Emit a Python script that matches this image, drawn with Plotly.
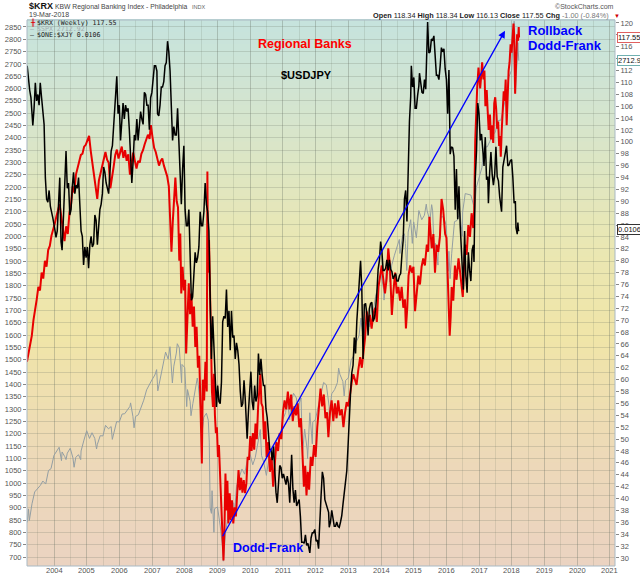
import pandas as pd
import plotly.graph_objects as go

# ---------------- DATA ----------------
# $ONE:$XJY overlay, expressed as the USD/JPY level it tracks
jpy_dates = [
 "2003-03-07","2003-03-21","2003-04-04","2003-04-18","2003-05-02","2003-05-09","2003-05-23","2003-06-06","2003-06-20","2003-07-04","2003-07-18","2003-07-31","2003-08-15","2003-08-29","2003-09-12","2003-09-26","2003-10-10","2003-10-24","2003-11-07","2003-11-21","2003-12-05","2003-12-19",
 "2004-01-09","2004-01-23","2004-02-06","2004-02-20","2004-03-05","2004-03-19","2004-03-31","2004-04-16","2004-04-30","2004-05-14","2004-05-28","2004-06-11","2004-06-25","2004-07-09","2004-07-23","2004-08-06","2004-08-20","2004-09-03","2004-09-17","2004-10-01","2004-10-15","2004-10-29","2004-11-12","2004-11-26","2004-12-10","2004-12-24",
 "2005-01-07","2005-01-21","2005-02-04","2005-02-18","2005-03-04","2005-03-18","2005-04-01","2005-04-15","2005-04-29","2005-05-13","2005-05-27","2005-06-10","2005-06-24","2005-07-08","2005-07-22","2005-08-05","2005-08-19","2005-09-02","2005-09-16","2005-09-30","2005-10-14","2005-10-28","2005-11-11","2005-11-25","2005-12-02","2005-12-16","2005-12-30",
 "2006-01-13","2006-01-27","2006-02-10","2006-02-24","2006-03-10","2006-03-24","2006-04-07","2006-04-21","2006-05-05","2006-05-19","2006-06-02","2006-06-16","2006-06-30","2006-07-14","2006-07-28","2006-08-11","2006-08-25","2006-09-08","2006-09-22","2006-10-06","2006-10-20","2006-11-03","2006-11-17","2006-12-01","2006-12-15","2006-12-29",
 "2007-01-12","2007-01-26","2007-02-09","2007-02-23","2007-03-02","2007-03-16","2007-03-30","2007-04-13","2007-04-27","2007-05-11","2007-05-25","2007-06-08","2007-06-22","2007-07-06","2007-07-20","2007-08-03","2007-08-17","2007-08-31","2007-09-14","2007-09-28","2007-10-12","2007-10-26","2007-11-09","2007-11-23","2007-12-07","2007-12-21",
 "2008-01-04","2008-01-18","2008-02-01","2008-02-15","2008-02-29","2008-03-14","2008-03-28","2008-04-11","2008-04-25","2008-05-09","2008-05-23","2008-06-06","2008-06-20","2008-07-04","2008-07-18","2008-08-01","2008-08-15","2008-08-29","2008-09-12","2008-09-26","2008-10-10","2008-10-24","2008-11-07","2008-11-21","2008-12-05","2008-12-19",
 "2009-01-02","2009-01-16","2009-01-30","2009-02-13","2009-02-27","2009-03-13","2009-03-27","2009-04-10","2009-04-24","2009-05-08","2009-05-22","2009-06-05","2009-06-19","2009-07-03","2009-07-17","2009-07-31","2009-08-14","2009-08-28","2009-09-11","2009-09-25","2009-10-09","2009-10-23","2009-11-06","2009-11-27","2009-12-11","2009-12-25",
 "2010-01-08","2010-01-22","2010-02-05","2010-02-19","2010-03-05","2010-03-19","2010-04-02","2010-04-16","2010-04-30","2010-05-14","2010-05-28","2010-06-11","2010-06-25","2010-07-09","2010-07-23","2010-08-06","2010-08-20","2010-09-03","2010-09-17","2010-10-01","2010-10-15","2010-10-29","2010-11-12","2010-11-26","2010-12-10","2010-12-24",
 "2011-01-07","2011-01-21","2011-02-04","2011-02-18","2011-03-04","2011-03-18","2011-04-01","2011-04-08","2011-04-22","2011-05-06","2011-05-20","2011-06-03","2011-06-17","2011-07-01","2011-07-15","2011-07-29","2011-08-12","2011-08-26","2011-09-09","2011-09-23","2011-10-07","2011-10-21","2011-10-28","2011-11-11","2011-11-25","2011-12-09","2011-12-23",
 "2012-01-06","2012-01-20","2012-02-03","2012-02-17","2012-03-02","2012-03-16","2012-03-30","2012-04-13","2012-04-27","2012-05-11","2012-05-25","2012-06-01","2012-06-15","2012-06-29","2012-07-13","2012-07-27","2012-08-10","2012-08-24","2012-09-07","2012-09-21","2012-10-05","2012-10-19","2012-11-02","2012-11-16","2012-11-30","2012-12-14","2012-12-28",
 "2013-01-11","2013-01-25","2013-02-08","2013-02-22","2013-03-08","2013-03-22","2013-04-05","2013-04-19","2013-05-10","2013-05-17","2013-05-31","2013-06-14","2013-06-28","2013-07-12","2013-07-26","2013-08-09","2013-08-23","2013-09-06","2013-09-20","2013-10-04","2013-10-18","2013-11-01","2013-11-15","2013-11-29","2013-12-13","2013-12-27",
 "2014-01-10","2014-01-24","2014-02-07","2014-02-21","2014-03-07","2014-03-21","2014-04-04","2014-04-18","2014-05-02","2014-05-16","2014-05-30","2014-06-13","2014-06-27","2014-07-11","2014-07-25","2014-08-08","2014-08-22","2014-09-05","2014-09-19","2014-10-03","2014-10-17","2014-10-31","2014-11-14","2014-11-28","2014-12-05","2014-12-19",
 "2015-01-02","2015-01-16","2015-01-30","2015-02-13","2015-02-27","2015-03-06","2015-03-20","2015-04-03","2015-04-17","2015-05-01","2015-05-15","2015-05-29","2015-06-05","2015-06-19","2015-07-03","2015-07-17","2015-07-31","2015-08-14","2015-08-28","2015-09-11","2015-09-25","2015-10-09","2015-10-23","2015-11-06","2015-11-20","2015-12-04","2015-12-18",
 "2016-01-01","2016-01-15","2016-01-29","2016-02-12","2016-02-26","2016-03-11","2016-03-25","2016-04-08","2016-04-22","2016-05-06","2016-05-20","2016-06-03","2016-06-17","2016-06-24","2016-07-08","2016-07-22","2016-08-05","2016-08-19","2016-09-02","2016-09-16","2016-09-30","2016-10-14","2016-10-28","2016-11-04","2016-11-18","2016-12-02","2016-12-16","2016-12-30",
 "2017-01-13","2017-01-27","2017-02-10","2017-02-24","2017-03-10","2017-03-24","2017-04-07","2017-04-14","2017-04-28","2017-05-12","2017-05-26","2017-06-09","2017-06-23","2017-07-07","2017-07-21","2017-08-04","2017-08-18","2017-09-08","2017-09-22","2017-10-06","2017-10-20","2017-11-03","2017-11-17","2017-12-01","2017-12-15","2017-12-29",
 "2018-01-12","2018-01-26","2018-02-09","2018-02-16","2018-03-02","2018-03-09","2018-03-16","2018-03-19",
]
jpy_vals = [
 121.5,120.0,119.2,118.5,117.0,115.9,117.5,119.9,118.2,118.8,117.8,119.9,118.5,117.2,116.0,111.0,109.0,108.7,109.8,108.3,107.8,107.2,
 106.2,105.4,106.0,109.0,111.0,105.0,104.2,107.5,110.5,113.5,110.0,110.5,107.5,108.0,110.2,111.5,109.5,110.3,110.0,111.0,108.5,106.0,105.5,102.8,104.5,103.5,
 104.5,102.5,104.7,105.5,104.5,104.8,107.5,107.0,104.7,106.5,108.0,108.5,109.5,112.0,111.5,110.5,110.0,109.5,111.5,113.5,114.0,115.8,118.0,119.5,120.5,117.0,117.8,
 114.5,116.5,118.0,116.5,117.8,117.2,117.5,115.5,112.0,110.5,112.5,115.0,114.5,116.5,114.5,115.8,117.2,116.5,116.0,119.0,118.8,117.8,117.8,115.5,118.5,119.0,
 120.5,121.5,121.5,121.0,117.0,116.8,117.8,119.5,119.5,120.0,121.5,121.8,123.8,122.8,121.0,118.5,114.5,115.8,115.0,115.0,117.5,114.5,111.0,108.5,111.8,114.0,
 108.0,106.5,106.5,108.0,103.8,99.5,99.8,101.5,104.0,103.0,103.5,104.5,107.8,106.5,106.5,107.8,110.5,108.5,107.8,106.0,100.5,94.0,98.0,95.5,93.0,89.5,
 91.5,90.0,89.8,91.8,97.5,98.0,97.8,100.5,97.0,98.5,94.8,98.5,96.0,96.2,94.0,95.5,94.8,93.5,91.0,89.5,89.8,92.0,90.2,86.5,89.0,91.5,
 92.8,90.0,89.2,91.5,90.0,90.5,94.5,92.5,94.0,92.5,91.5,91.5,89.3,88.5,87.0,85.5,85.5,84.5,85.8,83.3,81.5,80.5,82.5,84.0,83.8,82.8,
 83.2,82.5,82.2,83.0,82.3,80.5,84.0,85.0,81.8,80.5,81.7,80.2,80.5,80.8,79.2,76.8,76.8,76.7,77.5,76.5,76.7,76.2,75.8,77.2,77.7,77.7,78.0,
 76.9,77.0,76.2,79.5,81.2,83.4,82.8,80.8,80.3,79.8,79.6,78.2,78.7,79.8,79.2,78.3,78.3,78.7,78.3,78.2,78.7,79.3,80.4,81.3,82.4,83.5,85.8,
 89.0,90.8,92.7,93.4,96.0,94.5,97.5,99.5,101.6,103.2,100.5,94.0,99.1,99.2,98.2,96.2,98.7,99.2,99.3,97.5,97.8,98.7,100.2,102.4,103.2,105.0,
 104.1,102.3,102.3,102.5,103.3,102.3,103.3,102.4,102.2,101.5,101.8,102.0,101.3,101.3,101.8,102.0,103.8,105.1,109.0,109.8,106.9,112.3,116.3,118.6,121.5,119.5,
 120.4,117.5,117.5,118.7,119.6,120.8,120.0,119.0,118.9,120.2,119.3,124.1,125.6,122.7,122.8,124.0,123.9,124.3,121.7,120.6,120.6,120.2,121.5,123.2,122.8,123.1,121.2,
 120.2,117.0,121.1,113.2,113.9,113.8,113.0,108.0,111.8,107.1,110.2,106.5,104.2,102.2,100.5,106.0,101.8,100.2,104.0,102.3,101.3,104.2,104.7,103.1,110.9,113.5,118.0,117.0,
 114.5,115.1,113.2,112.1,114.8,110.8,111.1,108.6,111.5,113.4,111.3,110.3,111.3,113.9,111.1,110.7,109.2,107.8,112.0,112.6,113.5,114.0,112.1,112.2,112.6,112.7,
 111.0,108.6,108.8,106.3,105.7,106.8,106.0,106.1,
]

# $SPX (left scale)
spx_dates = [
 "2003-03-07","2003-03-21","2003-03-31","2003-04-30","2003-05-30","2003-06-30","2003-07-31","2003-08-29","2003-09-30","2003-10-31","2003-11-28","2003-12-31",
 "2004-01-30","2004-02-27","2004-03-24","2004-03-31","2004-04-30","2004-05-14","2004-05-28","2004-06-30","2004-07-30","2004-08-12","2004-08-31","2004-09-30","2004-10-25","2004-10-29","2004-11-30","2004-12-31",
 "2005-01-31","2005-02-28","2005-03-31","2005-04-20","2005-04-29","2005-05-31","2005-06-30","2005-07-29","2005-08-31","2005-09-30","2005-10-13","2005-10-31","2005-11-30","2005-12-30",
 "2006-01-31","2006-02-28","2006-03-31","2006-04-28","2006-05-05","2006-05-31","2006-06-13","2006-06-30","2006-07-31","2006-08-31","2006-09-29","2006-10-31","2006-11-30","2006-12-29",
 "2007-01-31","2007-02-20","2007-03-05","2007-03-30","2007-04-30","2007-05-31","2007-06-29","2007-07-19","2007-08-15","2007-08-31","2007-09-28","2007-10-09","2007-10-31","2007-11-26","2007-11-30","2007-12-31",
 "2008-01-22","2008-01-31","2008-02-29","2008-03-10","2008-03-31","2008-04-30","2008-05-19","2008-05-30","2008-06-30","2008-07-15","2008-07-31","2008-08-29","2008-09-19","2008-09-30","2008-10-10","2008-10-24","2008-10-31","2008-11-21","2008-11-28","2008-12-31",
 "2009-01-30","2009-02-27","2009-03-06","2009-03-31","2009-04-30","2009-05-29","2009-06-30","2009-07-10","2009-07-31","2009-08-31","2009-09-30","2009-10-30","2009-11-30","2009-12-31",
 "2010-01-29","2010-02-26","2010-03-31","2010-04-23","2010-05-07","2010-05-28","2010-06-30","2010-07-30","2010-08-27","2010-09-30","2010-10-29","2010-11-30","2010-12-31",
 "2011-01-31","2011-02-18","2011-03-16","2011-03-31","2011-04-29","2011-05-31","2011-06-24","2011-06-30","2011-07-22","2011-08-08","2011-08-31","2011-09-30","2011-10-03","2011-10-28","2011-11-25","2011-11-30","2011-12-30",
 "2012-01-31","2012-02-29","2012-03-30","2012-04-30","2012-05-31","2012-06-01","2012-06-29","2012-07-31","2012-08-31","2012-09-14","2012-09-28","2012-10-31","2012-11-15","2012-11-30","2012-12-31",
 "2013-01-31","2013-02-28","2013-03-28","2013-04-30","2013-05-21","2013-05-31","2013-06-24","2013-06-28","2013-07-31","2013-08-30","2013-09-18","2013-09-30","2013-10-31","2013-11-29","2013-12-31",
 "2014-01-31","2014-02-03","2014-02-28","2014-03-31","2014-04-11","2014-04-30","2014-05-30","2014-06-30","2014-07-24","2014-07-31","2014-08-29","2014-09-19","2014-09-30","2014-10-15","2014-10-31","2014-11-28","2014-12-16","2014-12-31",
 "2015-01-30","2015-02-27","2015-03-31","2015-04-30","2015-05-21","2015-05-29","2015-06-30","2015-07-20","2015-07-31","2015-08-25","2015-08-31","2015-09-29","2015-09-30","2015-10-30","2015-11-30","2015-12-31",
 "2016-01-20","2016-01-29","2016-02-11","2016-02-29","2016-03-31","2016-04-29","2016-05-31","2016-06-27","2016-06-30","2016-07-29","2016-08-31","2016-09-30","2016-10-31","2016-11-04","2016-11-30","2016-12-30",
 "2017-01-31","2017-02-28","2017-03-31","2017-04-28","2017-05-31","2017-06-30","2017-07-31","2017-08-31","2017-09-29","2017-10-31","2017-11-30","2017-12-29",
 "2018-01-26","2018-02-08","2018-02-28","2018-03-09","2018-03-19",
]
spx_vals = [
 840,895,848,916,964,975,990,1008,996,1051,1058,1112,
 1131,1145,1091,1126,1107,1095,1121,1141,1102,1064,1104,1115,1095,1130,1174,1212,
 1181,1204,1181,1138,1157,1192,1191,1234,1220,1229,1177,1207,1249,1248,
 1280,1281,1295,1311,1325,1270,1224,1270,1277,1304,1336,1378,1401,1418,
 1438,1460,1374,1421,1482,1531,1503,1553,1406,1474,1527,1565,1549,1407,1481,1468,
 1310,1379,1331,1273,1323,1386,1426,1400,1280,1215,1267,1283,1255,1166,899,877,969,800,896,903,
 826,735,683,798,873,919,919,879,987,1021,1057,1036,1096,1115,
 1074,1104,1169,1217,1111,1089,1031,1102,1065,1141,1183,1181,1258,
 1286,1343,1257,1326,1364,1345,1268,1321,1345,1119,1219,1131,1099,1285,1159,1247,1258,
 1312,1366,1408,1398,1310,1278,1362,1379,1407,1466,1441,1412,1353,1416,1426,
 1498,1515,1569,1598,1669,1631,1573,1606,1686,1633,1725,1682,1757,1806,1848,
 1783,1742,1859,1872,1815,1884,1924,1960,1988,1931,2003,2011,1972,1862,2018,2068,1972,2059,
 1995,2105,2068,2086,2131,2107,2063,2129,2104,1868,1972,1884,1920,2079,2080,2044,
 1859,1940,1829,1932,2060,2065,2097,2001,2099,2174,2171,2168,2126,2085,2199,2239,
 2279,2364,2363,2384,2412,2423,2470,2472,2519,2575,2648,2674,
 2873,2581,2714,2786,2713,
]

# $KRX weekly price (right scale); time in decimal years, alternating bar highs/lows
krx_t = [
 2003.17,2003.22,2003.27,2003.32,2003.37,2003.42,2003.47,2003.52,2003.57,2003.62,2003.67,2003.72,2003.77,2003.82,2003.87,2003.92,2003.97,
 2004.02,2004.07,2004.12,2004.17,2004.22,2004.27,2004.32,2004.37,2004.42,2004.47,2004.52,2004.57,2004.62,2004.67,2004.72,2004.77,2004.82,2004.87,2004.92,2004.97,
 2005.02,2005.07,2005.12,2005.17,2005.22,2005.27,2005.32,2005.37,2005.42,2005.47,2005.52,2005.57,2005.62,2005.67,2005.72,2005.77,2005.82,2005.87,2005.92,2005.97,
 2006.02,2006.07,2006.12,2006.17,2006.22,2006.27,2006.32,2006.37,2006.42,2006.47,2006.52,2006.57,2006.62,2006.67,2006.72,2006.77,2006.82,2006.87,2006.92,2006.96,
 2007.01,2007.06,2007.11,2007.16,2007.21,2007.26,2007.31,2007.36,2007.41,2007.46,2007.51,2007.55,2007.59,2007.63,2007.67,2007.71,2007.75,2007.79,2007.83,2007.86,2007.89,2007.93,2007.97,
 2008.01,2008.04,2008.08,2008.12,2008.16,2008.20,2008.24,2008.28,2008.32,2008.36,2008.40,2008.44,2008.48,2008.52,2008.55,2008.59,2008.63,2008.67,2008.69,2008.71,2008.74,2008.77,2008.80,2008.83,2008.86,2008.89,2008.92,2008.95,2008.98,
 2009.01,2009.04,2009.07,2009.10,2009.13,2009.15,2009.18,2009.21,2009.24,2009.27,2009.30,2009.33,2009.37,2009.40,2009.44,2009.48,2009.52,2009.56,2009.60,2009.64,2009.68,2009.72,2009.76,2009.80,2009.84,2009.88,2009.92,2009.96,
 2010.00,2010.04,2010.08,2010.12,2010.16,2010.20,2010.24,2010.28,2010.31,2010.34,2010.38,2010.42,2010.46,2010.50,2010.55,2010.60,2010.65,2010.70,2010.75,2010.80,2010.85,2010.90,2010.95,
 2011.00,2011.05,2011.10,2011.15,2011.20,2011.25,2011.30,2011.35,2011.40,2011.45,2011.50,2011.55,2011.60,2011.64,2011.68,2011.72,2011.76,2011.80,2011.85,2011.90,2011.95,
 2012.00,2012.05,2012.10,2012.15,2012.20,2012.25,2012.30,2012.35,2012.39,2012.44,2012.49,2012.54,2012.59,2012.64,2012.69,2012.74,2012.80,2012.85,2012.90,2012.95,
 2013.00,2013.05,2013.10,2013.15,2013.20,2013.25,2013.30,2013.36,2013.41,2013.46,2013.51,2013.56,2013.61,2013.66,2013.71,2013.76,2013.82,2013.87,2013.92,2013.97,
 2014.02,2014.07,2014.12,2014.17,2014.22,2014.27,2014.33,2014.38,2014.43,2014.48,2014.53,2014.58,2014.63,2014.68,2014.73,2014.76,2014.80,2014.84,2014.89,2014.94,2014.99,
 2015.04,2015.09,2015.14,2015.19,2015.24,2015.29,2015.34,2015.40,2015.44,2015.48,2015.52,2015.55,2015.60,2015.65,2015.70,2015.75,2015.80,2015.85,2015.90,2015.96,
 2016.00,2016.04,2016.07,2016.10,2016.13,2016.16,2016.21,2016.26,2016.31,2016.37,2016.42,2016.47,2016.50,2016.54,2016.57,2016.62,2016.67,2016.72,2016.77,2016.82,2016.85,2016.88,2016.91,2016.94,2016.98,
 2017.03,2017.06,2017.09,2017.13,2017.16,2017.19,2017.23,2017.26,2017.29,2017.33,2017.36,2017.39,2017.43,2017.46,2017.49,2017.52,2017.55,2017.58,2017.61,2017.64,2017.66,2017.69,2017.72,2017.75,2017.78,2017.81,2017.84,2017.87,2017.90,2017.93,2017.96,2017.99,
 2018.02,2018.05,2018.07,2018.10,2018.13,2018.16,2018.19,2018.21,2018.22,
]
krx_v = [
 63.0,64.5,66.5,67.4,70.0,71.5,73.5,75.6,75.0,78.0,77.0,80.0,79.0,81.8,82.5,84.2,85.1,
 86.2,87.4,88.6,89.5,87.5,85.5,83.3,85.8,84.5,88.0,89.5,92.5,91.5,94.5,95.7,96.5,97.8,98.0,99.2,99.5,
 100.3,101.0,98.5,96.5,94.0,92.2,90.4,93.5,94.8,95.7,97.5,98.3,97.0,96.5,92.2,94.5,95.8,97.8,98.7,97.2,
 98.3,99.2,97.3,98.6,96.8,97.9,94.5,96.8,98.2,96.8,95.5,96.8,96.5,98.0,98.6,99.6,100.4,101.2,100.5,102.8,
 100.8,99.0,98.3,97.2,96.0,96.8,97.2,96.0,95.0,94.2,92.5,88.0,81.5,86.5,91.0,94.0,90.0,89.0,80.0,84.6,74.5,79.0,75.0,
 76.8,64.4,70.0,76.2,71.0,74.5,68.9,72.3,65.5,68.9,62.0,64.0,55.4,45.9,60.0,56.5,63.0,58.0,95.0,78.0,83.5,72.3,63.9,58.0,55.4,61.0,54.0,51.0,52.0,
 47.0,49.0,44.2,40.0,37.0,31.3,29.6,35.0,44.2,38.0,43.0,35.8,40.9,36.4,39.7,35.8,38.5,37.0,42.0,44.8,41.4,43.5,41.0,43.1,40.9,42.5,47.0,46.5,
 50.5,48.0,51.0,48.2,52.6,50.0,55.4,58.0,61.0,56.0,55.4,50.0,53.0,47.0,49.5,44.5,47.0,42.0,46.0,49.5,48.0,51.0,50.0,
 54.5,56.5,55.0,58.0,55.0,57.5,53.0,55.5,54.0,56.0,52.0,53.5,46.0,42.0,45.5,40.5,44.5,41.5,47.0,45.5,49.0,
 47.0,52.0,55.0,58.5,55.5,57.5,53.5,54.5,50.3,54.5,56.5,53.0,56.0,53.5,56.5,54.0,55.0,52.0,54.5,56.2,
 55.5,57.9,59.5,60.9,60.0,59.1,61.5,63.8,62.0,65.0,67.0,71.5,69.7,70.9,68.6,71.0,72.1,69.7,75.6,77.4,
 79.2,76.8,74.5,77.0,82.1,79.2,70.9,75.0,78.0,74.5,75.6,73.3,75.6,72.1,73.5,68.6,72.0,77.5,79.2,78.0,79.0,
 71.5,74.5,77.5,76.0,79.0,80.4,79.2,82.7,81.5,87.4,85.0,82.1,84.5,78.0,82.7,81.5,84.0,90.4,88.6,84.5,
 83.9,75.6,73.3,67.4,70.5,75.6,73.3,79.2,76.8,80.4,78.0,75.6,73.9,79.0,82.7,81.0,86.0,84.0,88.0,85.5,88.6,100.0,105.7,109.0,112.5,
 109.0,111.0,113.4,110.5,112.0,106.0,108.7,105.2,102.0,104.6,100.4,102.8,99.8,106.5,107.5,105.5,102.2,103.4,99.3,101.0,97.5,102.0,105.2,108.5,106.9,110.5,102.8,108.7,112.0,113.4,116.4,115.0,
 118.7,119.9,118.1,108.1,113.4,118.1,117.0,119.3,117.55,
]

# hand-drawn trend arrow (date, KRX level)
trend_dates = ["2009-02-17", "2017-10-16"]
trend_vals = [33.4, 118.7]

year_ticks = list(range(2004, 2022))
krx_last, spx_last, ratio_last = 117.55, 2712.92, "0.0106"

# ---------------- FIGURE ----------------
def dec_to_date(t):
    y = int(t)
    return pd.Timestamp(year=y, month=1, day=1) + pd.Timedelta(days=(t - y) * 365.25)

krx_dates = [dec_to_date(t) for t in krx_t]

W, H = 640, 576
L, R, T, B = 27, 615, 20, 566

def px(x):
    return (x - L) / (R - L)

def py(y):
    return (B - y) / (B - T)

fig = go.Figure()
fig.add_trace(go.Scatter(x=pd.to_datetime(spx_dates), y=spx_vals, mode="lines",
                         line=dict(color="#939ea3", width=1), yaxis="y", hoverinfo="skip"))
fig.add_trace(go.Scatter(x=krx_dates, y=krx_v, mode="lines",
                         line=dict(color="#e80000", width=2), yaxis="y2", hoverinfo="skip"))
fig.add_trace(go.Scatter(x=pd.to_datetime(jpy_dates), y=jpy_vals, mode="lines",
                         line=dict(color="#000000", width=1.5), yaxis="y3", hoverinfo="skip"))

# gradient background (style only)
stops = [(0.0, (235, 211, 193)), (0.2, (237, 217, 184)), (0.42, (240, 229, 168)),
         (0.6, (233, 231, 180)), (0.8, (215, 229, 203)), (1.0, (198, 227, 222))]

def grad(f):
    for (f0, c0), (f1, c1) in zip(stops[:-1], stops[1:]):
        if f0 <= f <= f1:
            k = (f - f0) / (f1 - f0)
            return "rgb(%d,%d,%d)" % tuple(round(a + (b - a) * k) for a, b in zip(c0, c1))
    return "rgb(%d,%d,%d)" % stops[-1][1]

shapes = []
N = 90
for i in range(N):
    f0, f1 = i / N, (i + 1) / N
    shapes.append(dict(type="rect", xref="paper", yref="paper", x0=0, x1=1, y0=f0, y1=f1 + 0.002,
                       fillcolor=grad((f0 + f1) / 2), line=dict(width=0), layer="below"))
shapes.append(dict(type="rect", xref="paper", yref="paper", x0=0, x1=1, y0=0, y1=1,
                   line=dict(color="#a9b9c4", width=1), layer="above"))

base_font = "Liberation Sans"
anns = []

def text(t, x, y, size, color, xanchor="left", family=base_font):
    anns.append(dict(text=t, x=px(x), y=py(y), xref="paper", yref="paper", xanchor=xanchor,
                     yanchor="middle", showarrow=False, font=dict(size=size, color=color, family=family)))

# header
text("<b>$KRX</b>", 27, 6, 9, "#111")
text("KBW Regional Banking Index - Philadelphia", 53, 6.5, 6.8, "#444")
text("INDX", 190, 7, 5.5, "#666")
text("19-Mar-2018", 27, 14.5, 7, "#444")
text("©StockCharts.com", 616, 6, 7, "#555", xanchor="right")
text("<b>Open</b> 118.34 <b>High</b> 118.34 <b>Low</b> 116.13 <b>Close</b> 117.55 <b>Chg</b> <span style='color:#777'>-1.00 (-0.84%)</span>",
     611, 15, 7.3, "#222", xanchor="right")
text("▼", 612, 15.5, 6, "#d00000")

# in-plot legend
mono = "DejaVu Sans Mono"
text("╫", 28, 23, 7, "#e00000", family=mono)
text("$KRX (Weekly) %.2f" % krx_last, 35, 23, 6.6, "#222", family=mono)
text("—", 28, 29, 6.6, "#9aa3a8", family=mono)
text("$SPX %.2f" % spx_last, 35, 29, 6.6, "#a4acb0", family=mono)
text("—", 28, 35, 6.6, "#111", family=mono)
text("$ONE:$XJY %s" % ratio_last, 35, 35, 6.6, "#222", family=mono)

# chart notes
text("<b>Regional Banks</b>", 305, 44.5, 12.5, "#ff0000", xanchor="center")
text("<b>$USDJPY</b>", 306, 75, 11, "#000000", xanchor="center")
text("<b>Rollback</b>", 526, 30, 13, "#0000ff")
text("<b>Dodd-Frank</b>", 526, 45.5, 13, "#0000ff")
text("<b>Dodd-Frank</b>", 231, 548, 12.5, "#0000ff")

# x-axis year labels (just under the plot)
for y in year_ticks:
    anns.append(dict(text=str(y), x="%d-01-01" % y, xref="x", y=0, yref="paper", yanchor="middle",
                     yshift=-4.5, xanchor="center", showarrow=False, borderpad=0,
                     font=dict(size=7.5, color="#555", family=base_font)))

# trend arrow
anns.append(dict(x=trend_dates[1], y=trend_vals[1], xref="x", yref="y2",
                 ax=trend_dates[0], ay=trend_vals[0], axref="x", ayref="y2",
                 showarrow=True, arrowhead=2, arrowsize=1.1, arrowwidth=1.3,
                 arrowcolor="#0000ff", text="", standoff=0))

# right-edge value tags
for val, yref, label, bc in [(krx_last, "y2", "%.2f" % krx_last, "#e06060"),
                             (spx_last, "y", "%.2f" % spx_last, "#6fb0b0"),
                             (106.1, "y3", ratio_last, "#333333")]:
    anns.append(dict(x=1, xref="paper", y=val, yref=yref, xanchor="left", yanchor="middle",
                     xshift=2, text=label, showarrow=False, bgcolor="white", bordercolor=bc,
                     borderwidth=1, borderpad=0, font=dict(size=7.5, color="#111", family=base_font)))

tickfont = dict(size=7.5, color="#555", family=base_font)
fig.update_layout(
    width=W, height=H, template="none",
    margin=dict(l=L, r=W - R, t=T, b=H - B, autoexpand=False),
    paper_bgcolor="white", plot_bgcolor="rgba(0,0,0,0)",
    showlegend=False, shapes=shapes, annotations=anns,
    xaxis=dict(type="date", range=["2003-03-05", "2021-02-26"],
               tickvals=["%d-01-01" % y for y in year_ticks], showticklabels=False,
               showgrid=True, gridcolor="rgba(100,110,95,0.32)", gridwidth=1,
               minor=dict(tickvals=["%d-07-01" % y for y in range(2003, 2021)], showgrid=True,
                          gridcolor="rgba(100,110,95,0.16)", gridwidth=1),
               ticks="", zeroline=False, showline=False, automargin=False),
    yaxis=dict(range=[663.5, 2878], tick0=700, dtick=50, side="left",
               showgrid=True, gridcolor="rgba(100,110,95,0.22)", gridwidth=1,
               ticks="outside", ticklen=3, tickcolor="#888", tickfont=tickfont,
               showline=False, zeroline=False, automargin=False),
    yaxis2=dict(range=[28.65, 120.5], tick0=30, dtick=2, side="right", overlaying="y",
                showgrid=False, ticks="outside", ticklen=3, tickcolor="#888", tickfont=tickfont,
                showline=False, zeroline=False, automargin=False),
    yaxis3=dict(range=[74.57, 125.79], overlaying="y", visible=False),
)

fig.write_html("out.html", config={"displayModeBar": False},
               post_script="document.body.style.margin='0px';document.body.style.overflow='hidden';")
